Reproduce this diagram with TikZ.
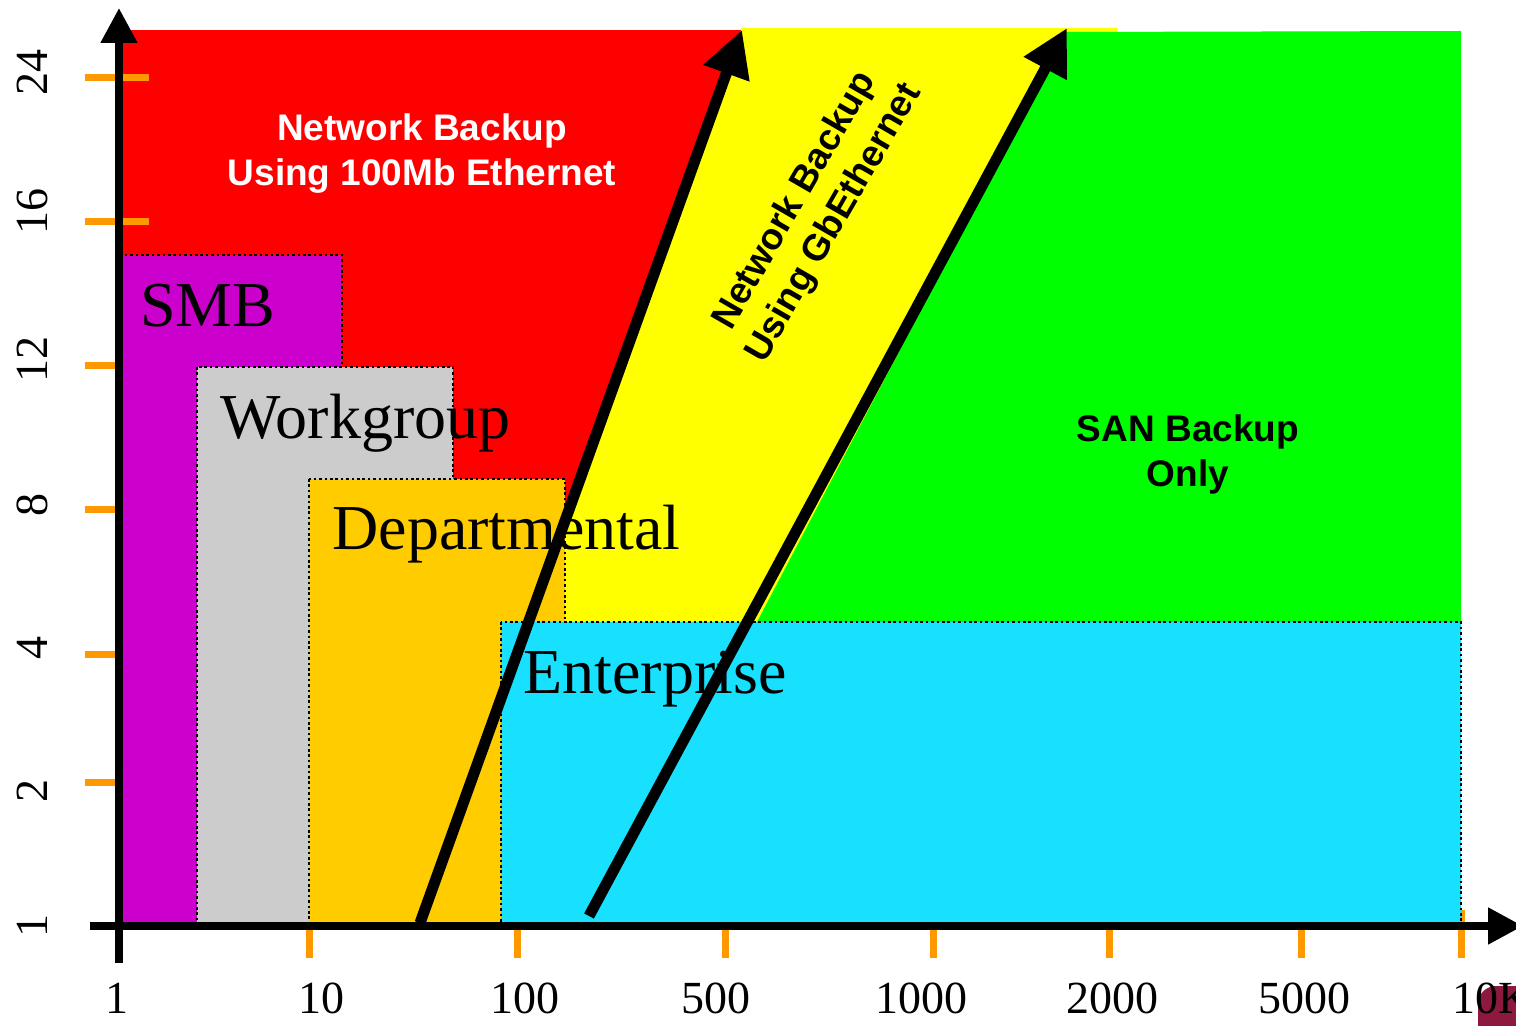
\documentclass[tikz,border=0pt]{standalone}
\usepackage{fontspec}
\setmainfont{Liberation Serif}
\setsansfont{Liberation Sans}
\usetikzlibrary{arrows.meta}
\definecolor{zred}{HTML}{FF0000}
\definecolor{zyellow}{HTML}{FFFF00}
\definecolor{zgreen}{HTML}{00FF00}
\definecolor{zmagenta}{HTML}{CC00CC}
\definecolor{zgray}{HTML}{CCCCCC}
\definecolor{zorange}{HTML}{FFCC00}
\definecolor{zcyan}{HTML}{17E1FF}
\definecolor{tickorange}{HTML}{FF9900}
\definecolor{maroon}{HTML}{8B1A3E}
\begin{document}
\begin{tikzpicture}[x=0.5pt,y=-0.5pt,
  region/.style={draw=black, line width=1.3pt, dash pattern=on 1.3pt off 1.4pt},
  tickmark/.style={draw=tickorange, line width=3.5pt},
  axisline/.style={line width=4pt, -{Triangle[length=17.5pt,width=17.5pt]}},
  bigarrow/.style={line width=5.5pt, -{Triangle[length=23pt,width=23pt]}},
  boxlabel/.style={font=\fontsize{32}{38}\selectfont, inner sep=0pt, anchor=base west},
  numlabel/.style={font=\fontsize{23}{27}\selectfont, inner sep=0pt, anchor=base},
  ynumlabel/.style={numlabel, rotate=90},
  zonelabel/.style={font=\sffamily\bfseries\fontsize{18.5}{22.5}\selectfont, align=center, inner sep=0pt}
]
\useasboundingbox (0,0) rectangle (1516,1026);

% background zones
\fill[zred] (122,30) rectangle (742,926);
\fill[zyellow] (420,926) -- (742,28) -- (1117,28) -- (1117,926) -- cycle;
\fill[zgreen] (1067,32) -- (1461,31) -- (1461,622) -- (757,622) -- cycle;

% ticks
\foreach \yy in {78,222,366,510,654,782}
  \draw[tickmark] (85,\yy) -- (149,\yy);
\foreach \xx in {309,517,725,933,1109,1301}
  \draw[tickmark] (\xx,930) -- (\xx,958);
\draw[tickmark] (1461,910) -- (1461,958);

% category boxes
\filldraw[region, fill=zmagenta] (122,255) rectangle (342,926);
\filldraw[region, fill=zgray] (197,367) rectangle (453,926);
\filldraw[region, fill=zorange] (309,479) rectangle (565,926);
\filldraw[region, fill=zcyan] (501,622) rectangle (1461,926);

\node[boxlabel] (smb) at (140,327) {SMB};
\node[boxlabel] (wg) at (220,439) {Workgroup};
\node[boxlabel] (dep) at (332,550) {Departmental};
\node[boxlabel] (ent) at (523,693) {Enterprise};

% zone labels
\node[zonelabel, text=white] (net100) at (422,154) {Network Backup\\Using 100Mb Ethernet};
\node[zonelabel] (san) at (1188,454) {SAN Backup\\Only};
\node[zonelabel, rotate=60] (gbe) at (815,212) {Network Backup\\Using GbEthernet};

% big arrows
\coordinate (a1s) at (420,923);
\coordinate (a1e) at (742,30);
\coordinate (a2s) at (589,916);
\coordinate (a2e) at (1067,28);
\draw[bigarrow] (a1s) -- (a1e);
\draw[bigarrow] (a2s) -- (a2e);

% axes
\coordinate (yb) at (119,963);
\coordinate (yt) at (119,8);
\coordinate (xl) at (90,926);
\coordinate (xr) at (1523,926);
\draw[axisline] (yb) -- (yt);
\draw[axisline] (xl) -- (xr);

% corner blob
\fill[maroon, rounded corners=9pt] (1478,986) rectangle (1545,1060);

% x labels
\node[numlabel] (x1) at (117,1013) {1};
\node[numlabel] (x10) at (321,1013) {10};
\node[numlabel] (x100) at (525,1013) {100};
\node[numlabel] (x500) at (716,1013) {500};
\node[numlabel] (x1000) at (921,1013) {1000};
\node[numlabel] (x2000) at (1112,1013) {2000};
\node[numlabel] (x5000) at (1304,1013) {5000};
\node[numlabel, anchor=base west] (x10k) at (1452,1013) {10K};

% y labels
\node[ynumlabel] (y24) at (47,73) {24};
\node[ynumlabel] (y16) at (47,212) {16};
\node[ynumlabel] (y12) at (47,360) {12};
\node[ynumlabel] (y8) at (47,505) {8};
\node[ynumlabel] (y4) at (47,648) {4};
\node[ynumlabel] (y2) at (47,791) {2};
\node[ynumlabel] (y1) at (47,926) {1};
\end{tikzpicture}
\end{document}
